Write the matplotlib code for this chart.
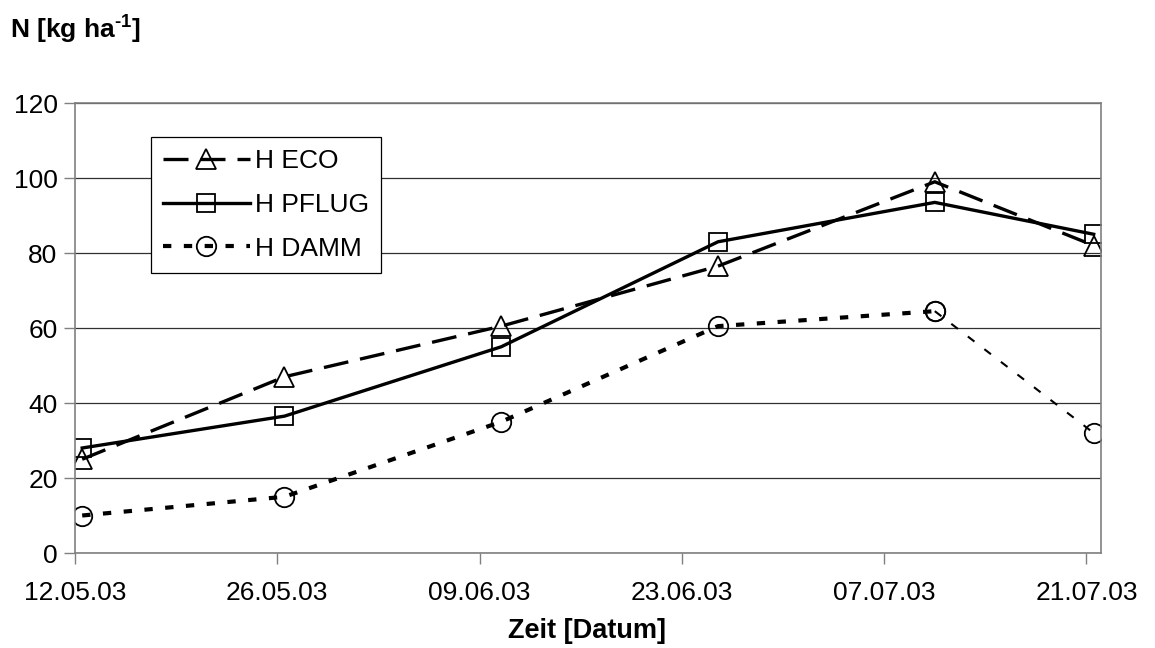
import matplotlib
matplotlib.use('Agg')
import matplotlib.pyplot as plt
import matplotlib.dates as mdates
import pandas as pd

plt.rcParams['font.family'] = ['Liberation Sans', 'DejaVu Sans']
plt.rcParams['mathtext.fontset'] = 'custom'
plt.rcParams['mathtext.rm'] = 'Liberation Sans:bold'
plt.rcParams['mathtext.default'] = 'rm'

# sampling dates and N values (kg/ha)
dates = ['2003-05-12', '2003-05-26', '2003-06-10', '2003-06-25', '2003-07-10', '2003-07-21']
eco = [25, 47, 60.5, 76.5, 99, 82]
pflug = [28, 36.5, 55, 83, 93.5, 85]
damm = [10, 15, 35, 60.5, 64.5, 32]
tick_dates = ['2003-05-12', '2003-05-26', '2003-06-09', '2003-06-23', '2003-07-07', '2003-07-21']

# excel date axis puts points in the middle of the day
x = pd.to_datetime(dates) + pd.Timedelta(hours=12)

fig = plt.figure(figsize=(11.55, 6.48), dpi=100)
ax = fig.add_axes([0.0649, 0.1466, 0.8883, 0.6944])

ax.plot(x, eco, color='black', lw=2.4, dashes=(7.5, 3.6), marker='^', ms=15,
        mfc='none', mec='black', mew=1.3, label='H ECO')
ax.plot(x, pflug, color='black', lw=2.4, marker='s', ms=13,
        mfc='none', mec='black', mew=1.3, label='H PFLUG')
ax.plot(x[:5], damm[:5], color='black', lw=3, dashes=(2, 3), marker='o', ms=14,
        mfc='none', mec='black', mew=1.3, label='H DAMM')
ax.plot(x[4:], damm[4:], color='black', lw=1.5, dashes=(4, 6), marker='o', ms=14,
        mfc='none', mec='black', mew=1.3)

ax.set_ylim(0, 120)
ax.set_yticks(range(0, 121, 20))
ax.set_xlim(pd.Timestamp('2003-05-12'), pd.Timestamp('2003-07-22'))
ax.set_xticks(pd.to_datetime(tick_dates))
ax.xaxis.set_major_formatter(mdates.DateFormatter('%d.%m.%y'))
ax.tick_params(labelsize=19, length=8, width=1, color='#808080')
ax.tick_params(axis='x', pad=12)
ax.tick_params(axis='y', pad=4.5)
ax.grid(True, axis='y', color='#303030', lw=0.9)
ax.set_axisbelow(True)
for s in ax.spines.values():
    s.set_color('#808080')
    s.set_linewidth(1.2)

leg = ax.legend(loc='upper left', bbox_to_anchor=(0.074, 0.924), fontsize=19,
                handlelength=3.3, handletextpad=0.2, labelspacing=0.75,
                fancybox=False, framealpha=1, edgecolor='black', borderpad=0.45,
                borderaxespad=0)
leg.get_frame().set_linewidth(0.9)

fig.text(0.508, 0.026, 'Zeit [Datum]', ha='center', va='center', fontsize=19.5, fontweight='bold')
fig.text(0.009, 0.954, r'N [kg ha$^{\text{-1}}$]', ha='left', va='center', fontsize=19, fontweight='bold')

fig.savefig('out.png', dpi=100)
